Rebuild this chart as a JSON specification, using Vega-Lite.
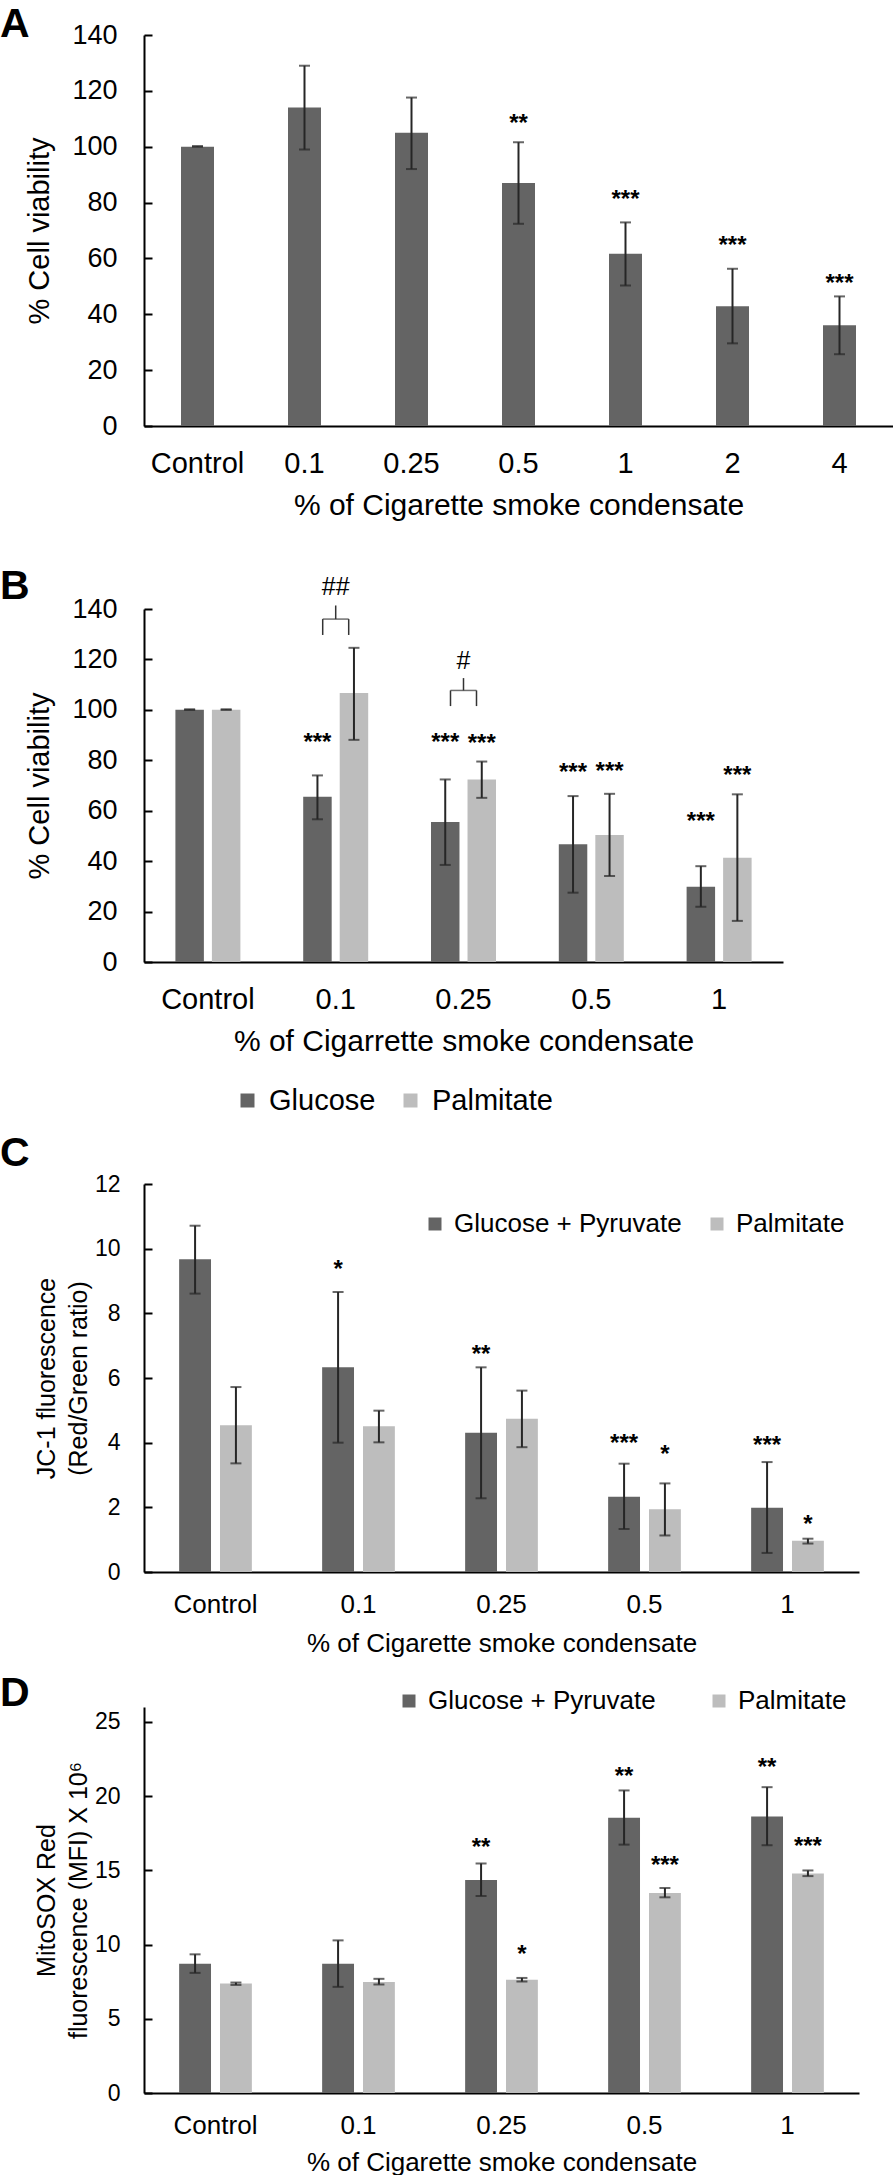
{
  "$schema": "https://vega.github.io/schema/vega-lite/v6.json",
  "padding": {"top": 4, "left": 0, "right": 0, "bottom": 0},
  "spacing": 17,
  "background": "white",
  "config": {
    "view": {"stroke": null},
    "font": "Liberation Sans",
    "axis": {"domainColor": "black", "domainWidth": 2, "labelColor": "black", "titleColor": "black", "titleFontWeight": "normal", "grid": false, "labelFont": "Liberation Sans", "titleFont": "Liberation Sans"},
    "axisY": {"tickSize": -8, "tickWidth": 2, "tickColor": "black", "labelPadding": 35},
    "axisX": {"ticks": false, "labelAngle": 0},
    "legend": {"labelColor": "black", "labelFont": "Liberation Sans", "labelLimit": 400, "gridAlign": "none", "padding": 0},
    "title": {"anchor": "start", "frame": "group", "dx": -144, "fontSize": 41, "fontWeight": "bold", "color": "black"}
  },
  "resolve": {"scale": {"color": "independent", "xOffset": "independent", "x": "independent", "y": "independent"}, "legend": {"color": "independent"}},
  "vconcat": [
    {
      "title": {"text": "A", "offset": -25},
      "width": 749, "height": 391,
      "data": {"values": [
        {"cat": "Control", "v": 100, "lo": 100, "hi": 100.2},
        {"cat": "0.1", "v": 114, "lo": 99, "hi": 129},
        {"cat": "0.25", "v": 105, "lo": 92, "hi": 117.6},
        {"cat": "0.5", "v": 87, "lo": 72.4, "hi": 101.6, "star": "**", "sy": 110.8},
        {"cat": "1", "v": 61.7, "lo": 50.3, "hi": 72.9, "star": "***", "sy": 83.4},
        {"cat": "2", "v": 42.9, "lo": 29.6, "hi": 56.3, "star": "***", "sy": 67.1},
        {"cat": "4", "v": 36.1, "lo": 25.7, "hi": 46.4, "star": "***", "sy": 53.5}
      ]},
      "encoding": {
        "x": {"field": "cat", "type": "nominal", "title": "% of Cigarette smoke condensate",
          "scale": {"domain": ["Control", "0.1", "0.25", "0.5", "1", "2", "4"], "paddingInner": 0, "paddingOuter": 0},
          "axis": {"labelFontSize": 29, "labelPadding": 23, "titleFontSize": 30, "titlePadding": 12}}
      },
      "layer": [
        {"mark": {"type": "bar", "width": 33, "color": "#646464"},
          "encoding": {"y": {"field": "v", "type": "quantitative", "title": "% Cell viability",
            "scale": {"domain": [0, 140]},
            "axis": {"values": [0, 20, 40, 60, 80, 100, 120, 140], "labelFontSize": 27, "titleFontSize": 29, "titlePadding": 17}}}},
        {"mark": {"type": "rule", "color": "#262626", "strokeWidth": 2},
          "encoding": {"y": {"field": "lo", "type": "quantitative"}, "y2": {"field": "hi"}}},
        {"mark": {"type": "tick", "color": "#262626", "thickness": 2, "size": 11},
          "encoding": {"y": {"field": "hi", "type": "quantitative"}}},
        {"mark": {"type": "tick", "color": "#262626", "thickness": 2, "size": 11},
          "encoding": {"y": {"field": "lo", "type": "quantitative"}}},
        {"transform": [{"filter": "datum.star"}],
          "mark": {"type": "text", "fontSize": 24, "fontWeight": "bold", "baseline": "alphabetic", "dy": 14, "color": "black"},
          "encoding": {"y": {"field": "sy", "type": "quantitative"}, "text": {"field": "star"}}}
      ]
    },
    {
      "title": {"text": ["", "B"], "offset": -33, "lineHeight": 28},
      "width": 639, "height": 353,
      "encoding": {
        "x": {"field": "cat", "type": "nominal", "title": "% of Cigarrette smoke condensate",
          "scale": {"domain": ["Control", "0.1", "0.25", "0.5", "1"], "paddingInner": 0, "paddingOuter": 0},
          "axis": {"labelFontSize": 29, "labelPadding": 23, "titleFontSize": 30, "titlePadding": 12}}
      },
      "layer": [
        {
          "data": {"values": [
            {"cat": "Control", "grp": "Glucose", "v": 100, "lo": 100, "hi": 100.2},
            {"cat": "Control", "grp": "Palmitate", "v": 100, "lo": 100, "hi": 100.2},
            {"cat": "0.1", "grp": "Glucose", "v": 65.5, "lo": 56.6, "hi": 74.0, "star": "***", "sy": 89.8},
            {"cat": "0.1", "grp": "Palmitate", "v": 106.7, "lo": 88.1, "hi": 124.6},
            {"cat": "0.25", "grp": "Glucose", "v": 55.5, "lo": 38.5, "hi": 72.4, "star": "***", "sy": 89.8},
            {"cat": "0.25", "grp": "Palmitate", "v": 72.4, "lo": 65.1, "hi": 79.5, "star": "***", "sy": 89.4},
            {"cat": "0.5", "grp": "Glucose", "v": 46.7, "lo": 27.5, "hi": 65.8, "star": "***", "sy": 77.6},
            {"cat": "0.5", "grp": "Palmitate", "v": 50.4, "lo": 34.1, "hi": 66.7, "star": "***", "sy": 78.0},
            {"cat": "1", "grp": "Glucose", "v": 29.8, "lo": 21.9, "hi": 38.0, "star": "***", "sy": 58.2},
            {"cat": "1", "grp": "Palmitate", "v": 41.3, "lo": 16.3, "hi": 66.5, "star": "***", "sy": 76.5}
          ]},
          "layer": [
            {"mark": {"type": "bar"},
              "encoding": {
                "xOffset": {"field": "grp", "type": "nominal", "scale": {"domain": ["Glucose", "Palmitate"], "paddingInner": 0.22, "paddingOuter": 0.86}},
                "y": {"field": "v", "type": "quantitative", "title": "% Cell viability", "scale": {"domain": [0, 140]},
                  "axis": {"values": [0, 20, 40, 60, 80, 100, 120, 140], "labelFontSize": 27, "titleFontSize": 29, "titlePadding": 17}},
                "color": {"field": "grp", "type": "nominal", "scale": {"domain": ["Glucose", "Palmitate"], "range": ["#646464", "#bdbdbd"]},
                  "legend": {"orient": "none", "legendX": 89, "legendY": 477, "direction": "horizontal", "columns": 2, "title": null, "symbolType": "square", "symbolSize": 196, "symbolStrokeWidth": 0, "labelFontSize": 29, "labelOffset": 7, "columnPadding": 20}}
              }},
            {"mark": {"type": "rule", "color": "#262626", "strokeWidth": 2},
              "encoding": {"xOffset": {"field": "grp", "type": "nominal"}, "y": {"field": "lo", "type": "quantitative"}, "y2": {"field": "hi"}}},
            {"mark": {"type": "tick", "color": "#262626", "thickness": 2, "size": 11},
              "encoding": {"xOffset": {"field": "grp", "type": "nominal"}, "y": {"field": "hi", "type": "quantitative"}}},
            {"mark": {"type": "tick", "color": "#262626", "thickness": 2, "size": 11},
              "encoding": {"xOffset": {"field": "grp", "type": "nominal"}, "y": {"field": "lo", "type": "quantitative"}}},
            {"transform": [{"filter": "datum.star"}],
              "mark": {"type": "text", "fontSize": 24, "fontWeight": "bold", "baseline": "alphabetic", "dy": 14, "color": "black"},
              "encoding": {"xOffset": {"field": "grp", "type": "nominal"}, "y": {"field": "sy", "type": "quantitative"}, "text": {"field": "star"}}}
          ]
        },
        {
          "data": {"values": [
            {"cat": "0.1", "line": 136, "top": 141.4, "leg": 129.7, "label": "##", "ly": 148.8},
            {"cat": "0.25", "line": 107.7, "top": 112.6, "leg": 101.5, "label": "#", "ly": 119.2}
          ]},
          "layer": [
            {"mark": {"type": "tick", "color": "#333333", "thickness": 1.5, "size": 26},
              "encoding": {"y": {"field": "line", "type": "quantitative"}}},
            {"mark": {"type": "rule", "color": "#333333", "strokeWidth": 1.5},
              "encoding": {"y": {"field": "line", "type": "quantitative"}, "y2": {"field": "top"}}},
            {"mark": {"type": "rule", "color": "#333333", "strokeWidth": 1.5, "xOffset": -13},
              "encoding": {"y": {"field": "leg", "type": "quantitative"}, "y2": {"field": "line"}}},
            {"mark": {"type": "rule", "color": "#333333", "strokeWidth": 1.5, "xOffset": 13},
              "encoding": {"y": {"field": "leg", "type": "quantitative"}, "y2": {"field": "line"}}},
            {"mark": {"type": "text", "fontSize": 25, "baseline": "middle", "color": "black"},
              "encoding": {"y": {"field": "ly", "type": "quantitative"}, "text": {"field": "label"}}}
          ]
        }
      ]
    },
    {
      "title": {"text": "C", "offset": -2},
      "width": 715, "height": 388,
      "data": {"values": [
        {"cat": "Control", "grp": "Glucose + Pyruvate", "v": 9.67, "lo": 8.61, "hi": 10.71},
        {"cat": "Control", "grp": "Palmitate", "v": 4.54, "lo": 3.36, "hi": 5.72},
        {"cat": "0.1", "grp": "Glucose + Pyruvate", "v": 6.33, "lo": 4.0, "hi": 8.66, "star": "*", "sy": 9.57},
        {"cat": "0.1", "grp": "Palmitate", "v": 4.51, "lo": 4.01, "hi": 4.99},
        {"cat": "0.25", "grp": "Glucose + Pyruvate", "v": 4.31, "lo": 2.28, "hi": 6.33, "star": "**", "sy": 6.94},
        {"cat": "0.25", "grp": "Palmitate", "v": 4.74, "lo": 3.86, "hi": 5.61},
        {"cat": "0.5", "grp": "Glucose + Pyruvate", "v": 2.33, "lo": 1.33, "hi": 3.35, "star": "***", "sy": 4.18},
        {"cat": "0.5", "grp": "Palmitate", "v": 1.94, "lo": 1.13, "hi": 2.74, "star": "*", "sy": 3.82},
        {"cat": "1", "grp": "Glucose + Pyruvate", "v": 1.99, "lo": 0.59, "hi": 3.40, "star": "***", "sy": 4.12},
        {"cat": "1", "grp": "Palmitate", "v": 0.97, "lo": 0.88, "hi": 1.03, "star": "*", "sy": 1.68}
      ]},
      "encoding": {
        "x": {"field": "cat", "type": "nominal", "title": "% of Cigarette smoke condensate",
          "scale": {"domain": ["Control", "0.1", "0.25", "0.5", "1"], "paddingInner": 0, "paddingOuter": 0},
          "axis": {"labelFontSize": 26, "labelPadding": 19, "titleFontSize": 26, "titlePadding": 13}},
        "xOffset": {"field": "grp", "type": "nominal", "scale": {"domain": ["Glucose + Pyruvate", "Palmitate"], "paddingInner": 0.22, "paddingOuter": 0.86}}
      },
      "layer": [
        {"mark": {"type": "bar"},
          "encoding": {
            "y": {"field": "v", "type": "quantitative", "title": ["JC-1 fluorescence", "(Red/Green ratio)"], "scale": {"domain": [0, 12]},
              "axis": {"values": [0, 2, 4, 6, 8, 10, 12], "labelFontSize": 23, "labelPadding": 32, "titleFontSize": 25, "titleLineHeight": 32, "titlePadding": 3,
                "encode": {"title": {"update": {"lineHeight": {"value": 32}}}}}},
            "color": {"field": "grp", "type": "nominal", "scale": {"domain": ["Glucose + Pyruvate", "Palmitate"], "range": ["#646464", "#bdbdbd"]},
              "legend": {"orient": "none", "legendX": 278, "legendY": 27, "direction": "horizontal", "columns": 2, "title": null, "symbolType": "square", "symbolSize": 169, "symbolStrokeWidth": 0, "labelFontSize": 26, "labelOffset": 6, "columnPadding": 22}}
          }},
        {"mark": {"type": "rule", "color": "#262626", "strokeWidth": 2},
          "encoding": {"y": {"field": "lo", "type": "quantitative"}, "y2": {"field": "hi"}}},
        {"mark": {"type": "tick", "color": "#262626", "thickness": 2, "size": 11},
          "encoding": {"y": {"field": "hi", "type": "quantitative"}}},
        {"mark": {"type": "tick", "color": "#262626", "thickness": 2, "size": 11},
          "encoding": {"y": {"field": "lo", "type": "quantitative"}}},
        {"transform": [{"filter": "datum.star"}],
          "mark": {"type": "text", "fontSize": 24, "fontWeight": "bold", "baseline": "alphabetic", "dy": 14, "color": "black"},
          "encoding": {"y": {"field": "sy", "type": "quantitative"}, "text": {"field": "star"}}}
      ]
    },
    {
      "title": {"text": "D", "offset": -27},
      "width": 715, "height": 386,
      "data": {"values": [
        {"cat": "Control", "grp": "Glucose + Pyruvate", "v": 8.71, "lo": 8.09, "hi": 9.34},
        {"cat": "Control", "grp": "Palmitate", "v": 7.37, "lo": 7.28, "hi": 7.44},
        {"cat": "0.1", "grp": "Glucose + Pyruvate", "v": 8.71, "lo": 7.15, "hi": 10.28},
        {"cat": "0.1", "grp": "Palmitate", "v": 7.48, "lo": 7.31, "hi": 7.69},
        {"cat": "0.25", "grp": "Glucose + Pyruvate", "v": 14.34, "lo": 13.27, "hi": 15.46, "star": "**", "sy": 16.98},
        {"cat": "0.25", "grp": "Palmitate", "v": 7.62, "lo": 7.51, "hi": 7.75, "star": "*", "sy": 9.74},
        {"cat": "0.5", "grp": "Glucose + Pyruvate", "v": 18.54, "lo": 16.73, "hi": 20.38, "star": "**", "sy": 21.78},
        {"cat": "0.5", "grp": "Palmitate", "v": 13.47, "lo": 13.18, "hi": 13.81, "star": "***", "sy": 15.73},
        {"cat": "1", "grp": "Glucose + Pyruvate", "v": 18.63, "lo": 16.69, "hi": 20.6, "star": "**", "sy": 22.36},
        {"cat": "1", "grp": "Palmitate", "v": 14.79, "lo": 14.61, "hi": 14.99, "star": "***", "sy": 17.07}
      ]},
      "encoding": {
        "x": {"field": "cat", "type": "nominal", "title": "% of Cigarette smoke condensate",
          "scale": {"domain": ["Control", "0.1", "0.25", "0.5", "1"], "paddingInner": 0, "paddingOuter": 0},
          "axis": {"labelFontSize": 26, "labelPadding": 19, "titleFontSize": 26, "titlePadding": 11}},
        "xOffset": {"field": "grp", "type": "nominal", "scale": {"domain": ["Glucose + Pyruvate", "Palmitate"], "paddingInner": 0.22, "paddingOuter": 0.86}}
      },
      "layer": [
        {"mark": {"type": "bar"},
          "encoding": {
            "y": {"field": "v", "type": "quantitative", "title": ["MitoSOX Red", "fluorescence (MFI) X 10⁶"], "scale": {"domain": [0, 25]},
              "axis": {"values": [0, 5, 10, 15, 20, 25], "labelFontSize": 23, "labelPadding": 32, "titleFontSize": 25, "titleLineHeight": 32, "titlePadding": 3,
                "encode": {"title": {"update": {"lineHeight": {"value": 32}}}}}},
            "color": {"field": "grp", "type": "nominal", "scale": {"domain": ["Glucose + Pyruvate", "Palmitate"], "range": ["#646464", "#bdbdbd"]},
              "legend": {"orient": "none", "legendX": 252, "legendY": -19, "direction": "horizontal", "columns": 2, "title": null, "symbolType": "square", "symbolSize": 169, "symbolStrokeWidth": 0, "labelFontSize": 26, "labelOffset": 6, "columnPadding": 50}}
          }},
        {"mark": {"type": "rule", "color": "#262626", "strokeWidth": 2},
          "encoding": {"y": {"field": "lo", "type": "quantitative"}, "y2": {"field": "hi"}}},
        {"mark": {"type": "tick", "color": "#262626", "thickness": 2, "size": 11},
          "encoding": {"y": {"field": "hi", "type": "quantitative"}}},
        {"mark": {"type": "tick", "color": "#262626", "thickness": 2, "size": 11},
          "encoding": {"y": {"field": "lo", "type": "quantitative"}}},
        {"transform": [{"filter": "datum.star"}],
          "mark": {"type": "text", "fontSize": 24, "fontWeight": "bold", "baseline": "alphabetic", "dy": 14, "color": "black"},
          "encoding": {"y": {"field": "sy", "type": "quantitative"}, "text": {"field": "star"}}}
      ]
    }
  ]
}
